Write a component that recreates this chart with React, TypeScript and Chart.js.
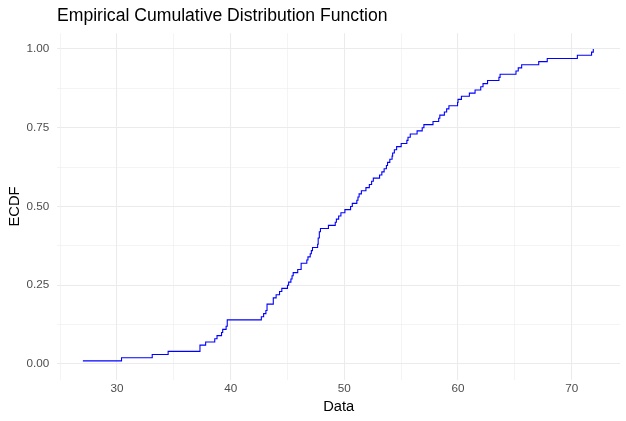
import React, { useEffect, useRef } from "react";
import { Chart, registerables } from "chart.js";

Chart.register(...registerables);

// Sorted sample values (n = 100)
const dataValues: number[] = [
  27.0, 30.4, 33.1, 34.5, 37.3, 37.3, 37.8, 38.6, 38.8, 39.2,
  39.3, 39.6, 39.7, 39.7, 42.7, 42.9, 43.1, 43.2, 43.2, 43.75,
  43.75, 44.0, 44.3, 44.5, 45.0, 45.1, 45.3, 45.4, 45.5, 45.9,
  46.2, 46.2, 46.7, 46.8, 47.0, 47.1, 47.2, 47.65, 47.7, 47.7,
  47.8, 47.8, 47.9, 48.6, 49.2, 49.3, 49.5, 49.7, 50.05, 50.55,
  50.7, 51.1, 51.2, 51.3, 51.5, 51.9, 52.2, 52.4, 52.55, 53.1,
  53.3, 53.5, 53.7, 53.8, 54.0, 54.2, 54.25, 54.4, 54.6, 55.0,
  55.5, 55.6, 55.8, 56.4, 56.85, 57.0, 57.8, 58.3, 58.4, 58.8,
  59.0, 59.2, 59.96, 60.0, 60.3, 61.0, 61.5, 62.0, 62.2, 62.6,
  63.6, 63.7, 65.1, 65.3, 65.6, 67.1, 67.85, 70.5, 71.75, 71.9,
];

const xMajorTicks: number[] = [30, 40, 50, 60, 70];
const yMajorTicks: number[] = [0, 0.25, 0.5, 0.75, 1.0];

const titleText = "Empirical Cumulative Distribution Function";
const xTitle = "Data";
const yTitle = "ECDF";

const FONT = "'Liberation Sans', Arial, sans-serif";

function ecdfPoints(values: number[]) {
  const sorted = [...values].sort((a, b) => a - b);
  const n = sorted.length;
  const uniq = Array.from(new Set(sorted));
  return uniq.map((x) => ({
    x,
    y: sorted.filter((v) => v <= x).length / n,
  }));
}

function isMajor(v: number, majors: number[]) {
  return majors.some((m) => Math.abs(m - v) < 1e-9);
}

export default function App() {
  const canvasRef = useRef<HTMLCanvasElement | null>(null);

  useEffect(() => {
    if (!canvasRef.current) return;
    const xMin = 24.75;
    const xMax = 74.25;
    const yMin = -0.05;
    const yMax = 1.05;

    const textPlugin = {
      id: "textPlugin",
      afterDraw(chart: any) {
        const { ctx, chartArea } = chart;
        ctx.save();
        ctx.fillStyle = "#000000";
        ctx.font = `17.6px ${FONT}`;
        ctx.textAlign = "left";
        ctx.textBaseline = "middle";
        ctx.fillText(titleText, 57, 16);

        ctx.font = `14.7px ${FONT}`;
        ctx.textAlign = "center";
        ctx.textBaseline = "middle";
        ctx.fillText(xTitle, (chartArea.left + chartArea.right) / 2, 407);

        ctx.translate(15, (chartArea.top + chartArea.bottom) / 2);
        ctx.rotate(-Math.PI / 2);
        ctx.fillText(yTitle, 0, 0);
        ctx.restore();
      },
    };

    const chart = new Chart(canvasRef.current, {
      type: "line",
      data: {
        datasets: [
          {
            data: ecdfPoints(dataValues),
            borderColor: "#0000FF",
            borderWidth: 1.1,
            pointRadius: 0,
            fill: false,
            stepped: "before",
            tension: 0,
          },
        ],
      },
      options: {
        animation: false,
        responsive: false,
        devicePixelRatio: 1,
        parsing: false as any,
        layout: { padding: { top: 33.25, right: 6, left: 0, bottom: 0 } },
        plugins: {
          legend: { display: false },
          title: { display: false },
          tooltip: { enabled: false },
        },
        scales: {
          x: {
            type: "linear",
            min: xMin,
            max: xMax,
            border: { display: false },
            grid: {
              drawTicks: false,
              color: "#EBEBEB",
              lineWidth: (ctx: any) =>
                isMajor(ctx.tick?.value, xMajorTicks) ? 1.07 : 0.55,
            },
            ticks: {
              stepSize: 5,
              includeBounds: false,
              autoSkip: false,
              maxRotation: 0,
              padding: 2,
              color: "#4D4D4D",
              font: { family: FONT, size: 11.7 },
              callback: (v: any) =>
                isMajor(Number(v), xMajorTicks) ? String(v) : "",
            },
            afterFit: (scale: any) => {
              scale.height = 41.25;
            },
          },
          y: {
            type: "linear",
            min: yMin,
            max: yMax,
            border: { display: false },
            grid: {
              drawTicks: false,
              color: "#EBEBEB",
              lineWidth: (ctx: any) =>
                isMajor(ctx.tick?.value, yMajorTicks) ? 1.07 : 0.55,
            },
            ticks: {
              stepSize: 0.125,
              includeBounds: false,
              autoSkip: false,
              padding: 8,
              color: "#4D4D4D",
              font: { family: FONT, size: 11.7 },
              callback: (v: any) =>
                isMajor(Number(v), yMajorTicks) ? Number(v).toFixed(2) : "",
            },
            afterFit: (scale: any) => {
              scale.width = 57.3;
            },
          },
        },
      },
      plugins: [textPlugin],
    });

    return () => chart.destroy();
  }, []);

  return (
    <div
      style={{
        position: "fixed",
        left: 0,
        top: 0,
        width: 626,
        height: 421,
        background: "#ffffff",
      }}
    >
      <canvas
        ref={canvasRef}
        width={626}
        height={421}
        style={{ display: "block", width: 626, height: 421 }}
      />
    </div>
  );
}
